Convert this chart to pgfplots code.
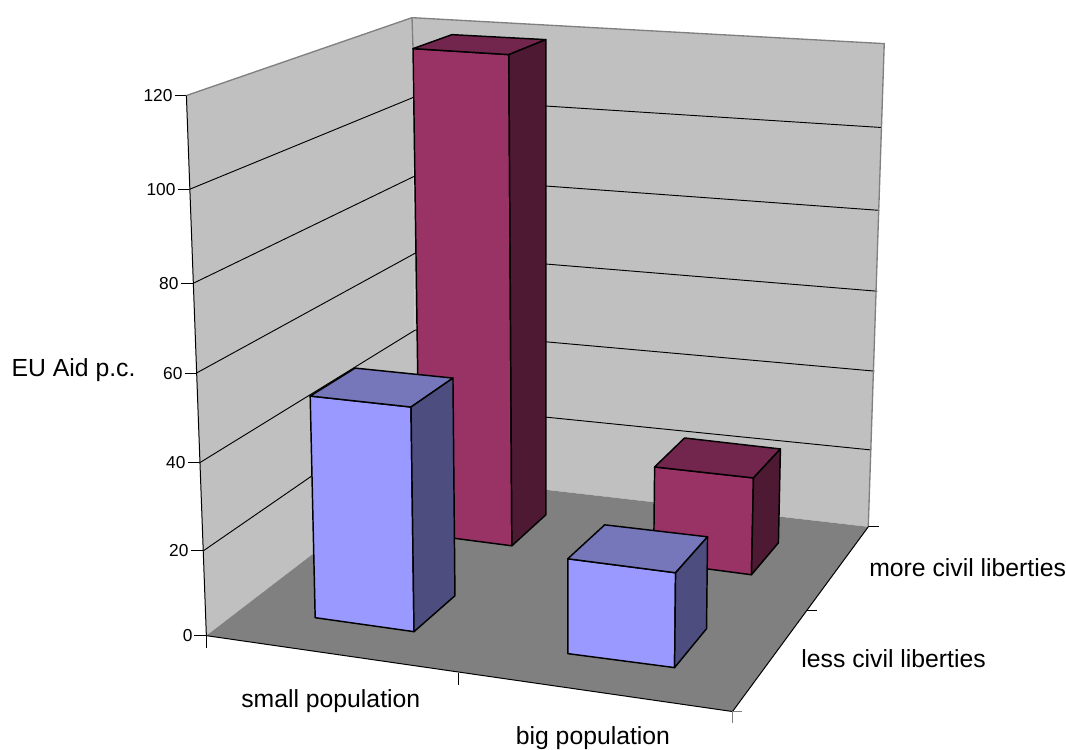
\documentclass[border=0pt]{standalone}
\usepackage{fontspec}
\setmainfont{Liberation Sans}
\usepackage{pgfplots}
\pgfplotsset{compat=1.18}

\definecolor{wall}{HTML}{C0C0C0}
\definecolor{floorc}{HTML}{808080}
\definecolor{blueF}{HTML}{9999FF}
\definecolor{blueT}{HTML}{7676BA}
\definecolor{blueS}{HTML}{4D4D80}
\definecolor{redF}{HTML}{993366}
\definecolor{redT}{HTML}{73264D}
\definecolor{redS}{HTML}{4D1933}

% everything in pixels (1px = 0.75pt), y counted from the top
\pgfplotsset{
  face/.style={fill=#1,draw=black,line width=1.1pt,line join=round},
  grid3d/.style={draw=black,line width=0.7pt},
  edge3d/.style={draw=floorc,line width=1pt},
  tick3d/.style={draw=black,line width=0.75pt},
}
\tikzset{
  lab/.style={anchor=base west,inner sep=0pt,outer sep=0pt,font=\fontsize{18.6}{22}\selectfont},
  tk/.style={anchor=east,inner sep=0pt,outer sep=0pt,font=\fontsize{13}{15}\selectfont},
}

\begin{document}
\begin{tikzpicture}
\begin{axis}[
  scale only axis,
  width=799.5pt,height=561.75pt,
  xmin=-0.7,xmax=1065.3,ymin=-0.7,ymax=748.3,
  y dir=reverse,
  hide axis,
  clip=false,
  no markers,
]
\path (axis cs:-0.7,-0.7) rectangle (axis cs:1065.3,748.3);

% walls
\addplot[fill=wall,draw=none] coordinates {(186,95)(412,17)(416,475)(206,636)} -- cycle;
\addplot[fill=wall,draw=none] coordinates {(412,17)(885,43)(869,527)(416,475)} -- cycle;

% gridlines left wall then back wall, 100 down to 20
\addplot[grid3d] coordinates {(189,189)(413,97)(882,127)};
\addplot[grid3d] coordinates {(193,283)(414,176)(880,210)};
\addplot[grid3d] coordinates {(196,373)(415,253)(878,291)};
\addplot[grid3d] coordinates {(199,463)(415,330)(875,371)};
\addplot[grid3d] coordinates {(203,551)(416,404)(872,450)};

% wall outline
\addplot[edge3d] coordinates {(186,95)(412,17)(885,43)(869,527)};
\addplot[edge3d] coordinates {(412,17)(413,48)};

% floor
\addplot[fill=floorc,draw=none] coordinates {(206,636)(416,475)(869,527)(733,712)} -- cycle;
\addplot[tick3d] coordinates {(206,636)(733,712)(869,527)};
\addplot[tick3d] coordinates {(186,95)(206,636)};

% ticks
\addplot[tick3d] coordinates {(175,95)(186,95)};
\addplot[tick3d] coordinates {(178,189)(189,189)};
\addplot[tick3d] coordinates {(181,283)(193,283)};
\addplot[tick3d] coordinates {(185,373)(196,373)};
\addplot[tick3d] coordinates {(188,463)(199,463)};
\addplot[tick3d] coordinates {(191,551)(203,551)};
\addplot[tick3d] coordinates {(194,636)(206,636)};
\addplot[tick3d] coordinates {(206,636)(206,648)};
\addplot[tick3d] coordinates {(459,673)(459,685)};
\addplot[edge3d] coordinates {(733,712)(733,723)};
\addplot[edge3d] coordinates {(733,712)(743,712)};
\addplot[tick3d] coordinates {(808,611)(818,611)};
\addplot[tick3d] coordinates {(869,527)(880,527)};

% tall red bar
\addplot[face=redF] coordinates {(413,48)(509,54)(512,546)(420,534)} -- cycle;
\addplot[face=redT] coordinates {(413,48)(452,34)(546,39)(509,54)} -- cycle;
\addplot[face=redS] coordinates {(509,54)(546,39)(546,515)(512,546)} -- cycle;

% short red bar
\addplot[face=redF] coordinates {(655,467)(754,478)(752,575)(654,562)} -- cycle;
\addplot[face=redT] coordinates {(655,467)(685,438)(781,449)(754,478)} -- cycle;
\addplot[face=redS] coordinates {(754,478)(781,449)(779,543)(752,575)} -- cycle;

% left blue bar
\addplot[face=blueF] coordinates {(310,396)(411,407)(414,632)(315,618)} -- cycle;
\addplot[face=blueT] coordinates {(310,396)(355,368)(453,378)(411,407)} -- cycle;
\addplot[face=blueS] coordinates {(411,407)(453,378)(455,596)(414,632)} -- cycle;

% right blue bar
\addplot[face=blueF] coordinates {(568,559)(676,573)(675,668)(568,654)} -- cycle;
\addplot[face=blueT] coordinates {(568,559)(605,525)(708,537)(676,573)} -- cycle;
\addplot[face=blueS] coordinates {(676,573)(708,537)(707,629)(675,668)} -- cycle;

% text
\node[tk] at (axis cs:172,95) {120};
\node[tk] at (axis cs:175,189) {100};
\node[tk] at (axis cs:178,283) {80};
\node[tk] at (axis cs:182,373) {60};
\node[tk] at (axis cs:185,463) {40};
\node[tk] at (axis cs:188,551) {20};
\node[tk] at (axis cs:192,636) {0};
\node[lab] at (axis cs:11,376) {EU Aid p.c.};
\node[lab] at (axis cs:241,708) {small population};
\node[lab] at (axis cs:516,745) {big population};
\node[lab] at (axis cs:870,577) {more civil liberties};
\node[lab] at (axis cs:802,668) {less civil liberties};
\end{axis}
\end{tikzpicture}
\end{document}
